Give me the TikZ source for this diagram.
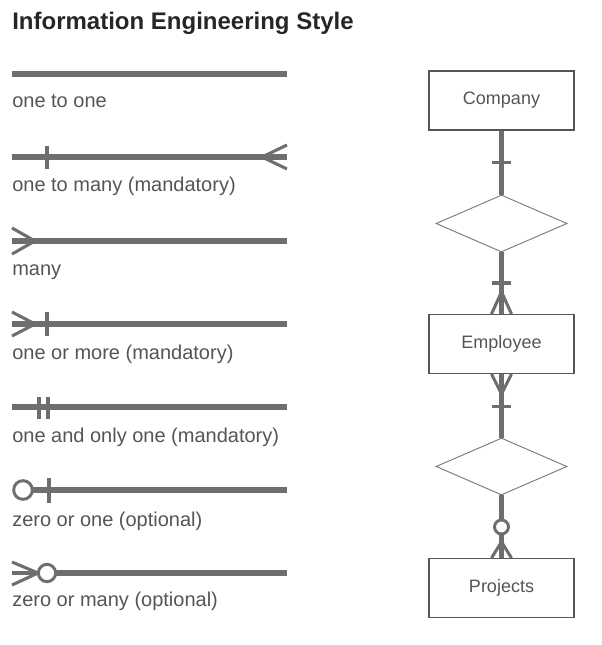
\documentclass[tikz,border=0pt]{standalone}
\usepackage{fontspec}
\setmainfont{Liberation Sans}
\usetikzlibrary{shapes.geometric,calc}
\definecolor{linegray}{HTML}{6E6E6E}
\definecolor{textgray}{HTML}{555555}
\definecolor{boxgray}{HTML}{7A7A7A}

\begin{document}
\begin{tikzpicture}[x=0.75pt, y=-0.75pt,
        bar/.style={line width=4.5pt, linegray},
        prong/.style={line width=2.3pt, linegray},
        ring/.style={line width=2.2pt, linegray, fill=white},
        lbl/.style={anchor=base west, inner sep=0pt, textgray, font=\fontsize{15}{18}\selectfont},
        entity/.style={draw=boxgray, line width=0.8pt, minimum width=108.75pt, minimum height=44.25pt, inner sep=0pt, textgray, font=\fontsize{13.5}{16}\selectfont},
        relation/.style={draw=boxgray, line width=0.7pt, diamond, minimum width=98.25pt, minimum height=42.75pt, inner sep=0pt},
        link/.style={line width=3.8pt, linegray}]

        \useasboundingbox (0,0) rectangle (602,645);

        % 标题
        \node[anchor=base west, inner sep=0pt, font=\bfseries\fontsize{18}{22}\selectfont, color=black!85] (title) at (12,30) {Information Engineering Style};

        % ==================== 左半侧: 图例 ====================
        % one to one
        \draw[bar] (12,74) -- (287,74);
        \node[lbl] (lblone) at (12,108) {one to one};

        % one to many
        \draw[bar] (12,157) -- (287,157);
        \draw[prong] (47,146) -- (47,169);
        \draw[prong] (287,145) -- (262,157);
        \draw[prong] (287,169) -- (262,157);
        \node[lbl] (lblonemany) at (12,192) {one to many (mandatory)};

        % many
        \draw[bar] (12,241) -- (287,241);
        \draw[prong] (12,228) -- (35,241);
        \draw[prong] (12,254) -- (35,241);
        \node[lbl] (lblmany) at (12,275) {many};

        % one or more
        \draw[bar] (12,324) -- (287,324);
        \draw[prong] (12,312) -- (35,324);
        \draw[prong] (12,336) -- (35,324);
        \draw[prong] (47,312) -- (47,336);
        \node[lbl] (lblonemore) at (12,359) {one or more (mandatory)};

        % one and only one
        \draw[bar] (12,407) -- (287,407);
        \draw[prong] (39,397) -- (39,419);
        \draw[prong] (48,397) -- (48,419);
        \node[lbl] (lblonlyone) at (12,442) {one and only one (mandatory)};

        % zero or one
        \draw[bar] (33,490) -- (287,490);
        \draw[prong] (49,478) -- (49,503);
        \draw[ring] (23,490) circle[radius=7pt];
        \node[lbl] (lblzeroone) at (12,526) {zero or one (optional)};

        % zero or many
        \draw[bar] (56,573) -- (287,573);
        \draw[prong] (12,562) -- (38,573);
        \draw[prong] (12,585) -- (38,573);
        \draw[prong] (12,573) -- (38,573);
        \draw[ring] (47,573) circle[radius=6.5pt];
        \node[lbl] (lblzeromany) at (12,606) {zero or many (optional)};

        % ==================== 右半侧: ER 图 ====================
        \node[entity] (company) at (501.5,100.5) {Company};
        \node[relation] (employs) at (501.5,223.5) {};
        \node[entity] (employee) at (501.5,344) {Employee};
        \node[relation] (assigned) at (501.5,466.5) {};
        \node[entity] (projects) at (501.5,588) {Projects};

        % 连线
        \draw[link] (company) -- (employs);
        \draw[link] (employs) -- (employee);
        \draw[link] (employee) -- (assigned);
        \draw[link] (assigned) -- (projects);

        % Company 一侧: one
        \draw[prong] ($(company.south)+(-9.5,32)$) -- ($(company.south)+(9.5,32)$);

        % Employee 上侧: one or more
        \draw[prong] ($(employee.north)+(-9.5,-31)$) -- ($(employee.north)+(9.5,-31)$);
        \draw[prong] ($(employee.north)+(-10,0)$) -- ($(employee.north)+(0,-22)$);
        \draw[prong] ($(employee.north)+(10,0)$) -- ($(employee.north)+(0,-22)$);

        % Employee 下侧: one or more
        \draw[prong] ($(employee.south)+(-10,0)$) -- ($(employee.south)+(0,20)$);
        \draw[prong] ($(employee.south)+(10,0)$) -- ($(employee.south)+(0,20)$);
        \draw[prong] ($(employee.south)+(-9.5,32)$) -- ($(employee.south)+(9.5,32)$);

        % Projects 一侧: zero or many
        \draw[prong] ($(projects.north)+(-10,0)$) -- ($(projects.north)+(0,-16)$);
        \draw[prong] ($(projects.north)+(10,0)$) -- ($(projects.north)+(0,-16)$);
        \draw[ring] ($(projects.north)+(0,-31)$) circle[radius=5.25pt];

    \end{tikzpicture}
\end{document}
